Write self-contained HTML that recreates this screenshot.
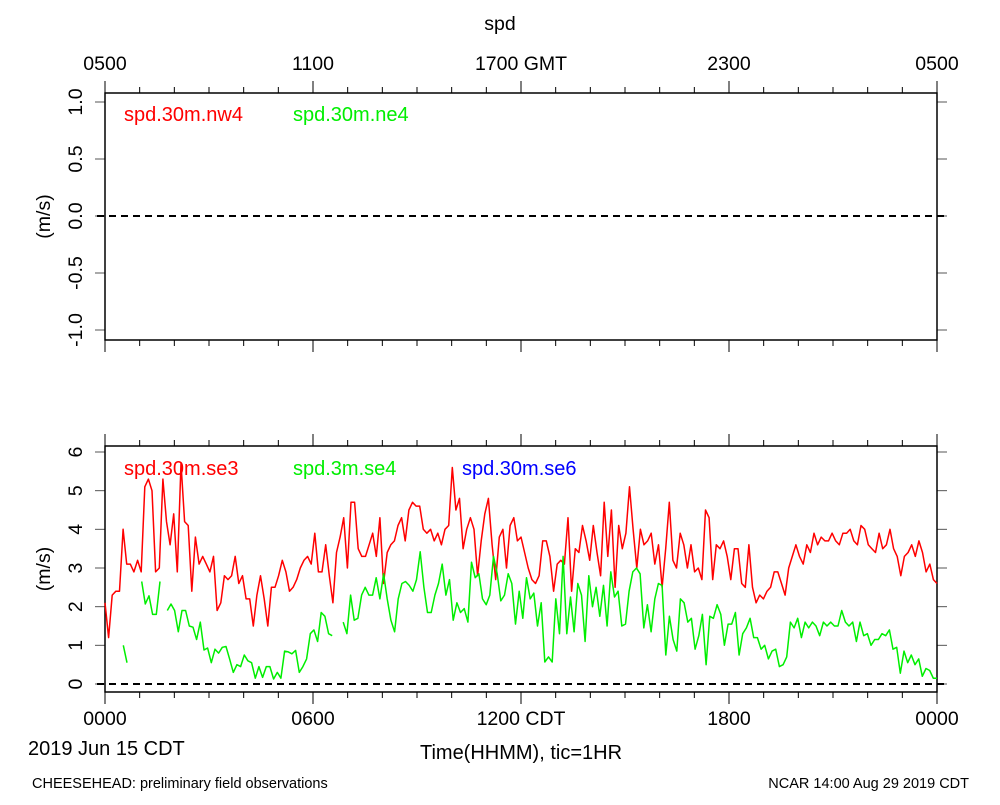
<!DOCTYPE html>
<html><head><meta charset="utf-8"><style>
body{margin:0;background:#fff}
svg text{font-family:"Liberation Sans",sans-serif}
</style></head><body>
<svg id="chart" width="1000" height="800" xmlns="http://www.w3.org/2000/svg"></svg>
<script>
const topTickLabels=["0500","1100","1700 GMT","2300","0500"];
const botTickLabels=["0000","0600","1200 CDT","1800","0000"];
const topYTicks=[1.0,0.5,0.0,-0.5,-1.0];
const topYLabels=["1.0","0.5","0.0","-0.5","-1.0"];
const botYTicks=[0,1,2,3,4,5,6];
const red=[2.1,1.2,2.3,2.4,2.4,4.0,3.1,3.1,2.9,3.2,2.9,5.1,5.3,5.0,2.9,3.0,5.3,4.2,3.6,4.4,2.9,5.7,4.2,4.1,2.4,3.8,3.1,3.3,3.1,2.9,3.3,1.9,2.1,2.8,2.7,2.8,3.3,2.6,2.8,2.2,2.2,1.5,2.3,2.8,2.2,1.5,2.5,2.5,2.8,3.2,2.9,2.4,2.5,2.7,3.0,3.2,3.3,3.1,3.9,2.9,2.9,3.6,2.8,2.1,3.4,3.8,4.3,3.0,4.7,4.7,3.5,3.3,3.3,3.6,3.9,3.3,4.3,2.6,3.4,3.6,3.7,4.1,4.3,3.7,4.5,4.7,4.6,4.6,4.0,3.9,4.0,3.7,3.9,3.6,4.0,4.1,5.6,4.5,4.8,3.5,4.0,4.3,4.0,2.8,3.7,4.4,4.8,3.6,2.7,3.8,4.0,3.0,4.1,4.3,3.7,3.8,3.4,3.0,2.7,2.6,2.8,3.7,3.7,3.3,2.4,3.1,3.2,3.1,4.3,2.4,3.5,3.4,4.1,3.7,3.2,4.1,3.4,2.8,4.7,3.3,4.5,2.5,4.1,3.5,3.9,5.1,4.0,3.0,4.0,3.6,3.7,3.9,3.1,3.6,2.5,3.5,4.7,3.2,3.0,3.9,3.6,3.0,3.6,2.9,3.0,2.7,4.5,4.3,2.7,3.6,3.5,3.7,3.3,2.7,3.5,3.5,2.6,2.5,3.6,2.5,2.1,2.3,2.2,2.4,2.5,2.9,2.9,2.6,2.3,3.0,3.3,3.6,3.3,3.1,3.6,3.4,3.9,3.6,3.8,3.7,3.7,3.9,3.7,3.6,3.9,3.9,4.0,3.7,3.6,4.1,4.0,3.6,3.5,3.4,3.9,3.5,3.6,4.0,3.5,3.3,2.8,3.3,3.4,3.6,3.3,3.7,3.4,2.9,3.1,2.7,2.6];
const green=[null,null,null,null,null,1.0,0.55,null,null,null,2.65,2.07,2.28,1.8,1.8,2.65,null,1.9,2.07,1.9,1.35,1.9,1.9,1.5,1.47,1.15,1.6,0.88,0.93,0.55,0.9,0.8,0.95,0.97,0.65,0.3,0.5,0.45,0.75,0.6,0.55,0.15,0.45,0.17,0.45,0.45,0.13,0.3,0.15,0.85,0.83,0.78,0.87,0.3,0.45,0.65,1.3,1.4,1.1,1.85,1.75,1.3,1.25,null,null,1.6,1.3,2.3,1.65,1.7,2.3,2.5,2.3,2.3,2.75,2.2,2.85,2.2,1.65,1.35,2.2,2.6,2.65,2.55,2.4,2.7,3.42,2.5,1.85,1.85,2.3,2.6,3.1,2.3,2.7,1.65,2.1,1.85,1.95,1.6,3.15,2.75,2.85,2.2,2.05,2.3,3.3,2.85,2.15,2.3,2.85,2.6,1.55,2.4,1.7,2.75,2.2,2.35,1.5,2.1,0.57,0.7,0.57,2.2,1.3,3.3,1.3,2.25,1.35,2.6,2.3,1.1,2.8,2.0,2.5,1.75,2.55,1.5,2.9,2.25,2.4,1.5,1.55,2.4,2.9,3.0,2.85,1.45,2.05,1.35,2.2,2.6,2.55,0.75,1.75,1.15,0.85,2.2,2.1,1.6,1.7,0.9,1.25,1.8,0.5,1.75,1.7,2.05,1.8,1.0,1.55,1.55,1.85,0.75,1.3,1.45,1.7,1.2,1.2,0.9,1.0,0.65,0.85,0.9,0.45,0.5,0.7,1.6,1.45,1.7,1.2,1.6,1.45,1.6,1.5,1.25,1.6,1.5,1.6,1.5,1.5,1.9,1.6,1.5,1.6,1.1,1.6,1.25,1.3,1.0,1.15,1.15,1.3,1.25,1.4,0.9,0.95,0.28,0.85,0.55,0.75,0.5,0.65,0.2,0.4,0.35,0.15,0.15];

const NS="http://www.w3.org/2000/svg";
const svg=document.getElementById('chart');
const X0=105,X1=937;
const xs=h=>X0+(X1-X0)*h/24;
const yTop=v=>216-v*114;
const yBot=v=>684-v*(684-452)/6;
function mk(tag,attrs,parent){const e=document.createElementNS(NS,tag);for(const k in attrs)e.setAttribute(k,attrs[k]);(parent||svg).appendChild(e);return e;}
function txt(s,x,y,size,fill,anchor,rot){const t=mk('text',{x:x,y:y,'font-size':size,fill:fill,'text-anchor':anchor||'start'});if(rot)t.setAttribute('transform','rotate(-90 '+x+' '+y+')');t.textContent=s;return t;}

let t=txt('spd',500,30,19.5,'#000','middle');


function panel(yT,yB,yf,ticks,labels,name){
  const g=mk('g',{});
  
  
  for(let h=0;h<=24;h++){
    const major=h%6===0;const L=major?12:6;
    mk('line',{x1:xs(h),x2:xs(h),y1:yT,y2:yT-L,stroke:'#000','stroke-width':1},g);
    mk('line',{x1:xs(h),x2:xs(h),y1:yB,y2:yB+L,stroke:'#000','stroke-width':1},g);
  }
  ticks.forEach((v,i)=>{
    mk('line',{x1:X0-10,x2:X0,y1:yf(v),y2:yf(v),stroke:'#555','stroke-width':1},g);
    mk('line',{x1:X1,x2:X1+10,y1:yf(v),y2:yf(v),stroke:'#555','stroke-width':1},g);
    const l=txt(labels[i],82,yf(v),19.5,'#000','middle',true);
    
    
    g.appendChild(l);
  });
  mk('rect',{x:X0,y:yT,width:X1-X0,height:yB-yT,fill:'none',stroke:'#000','stroke-width':1.5},g);
  const z=mk('line',{x1:97,x2:947,y1:yf(0),y2:yf(0),stroke:'#000','stroke-width':2,'stroke-dasharray':'7,5'},g);
  
  
  const yl=txt('(m/s)',50,(yT+yB)/2,19.5,'#000','middle',true);
  
  
  return g;
}
panel(93,340,yTop,topYTicks,topYLabels,'top-panel');
panel(446,692,yBot,botYTicks,botYTicks.map(String),'bottom-panel');

topTickLabels.forEach((s,i)=>{const e=txt(s,xs(i*6),70,19.5,'#000','middle');

});
botTickLabels.forEach((s,i)=>{const e=txt(s,xs(i*6),725,19.5,'#000','middle');

});

function series(vals,color,name){
  const n=vals.length;let d='';let pen=false;
  vals.forEach((v,i)=>{
    if(v===null){pen=false;return;}
    const x=xs(i*24/(n-1)),y=yBot(v);
    d+=(pen?'L':'M')+x.toFixed(1)+' '+y.toFixed(1);pen=true;
  });
  const p=mk('path',{d:d,fill:'none',stroke:color,'stroke-width':1.5,'stroke-linejoin':'round'});
  
  
}
series(red,'#ff0000','series-spd-30m-se3');
series(green,'#00ee00','series-spd-3m-se4');

const legends=[['spd.30m.nw4',124,121,'#ff0000'],['spd.30m.ne4',293,121,'#00ee00'],['spd.30m.se3',124,475,'#ff0000'],['spd.3m.se4',293,475,'#00ee00'],['spd.30m.se6',462,475,'#0000ff']];
legends.forEach(l=>{const e=txt(l[0],l[1],l[2],20,l[3],'start');

});

let e1=txt('2019 Jun 15 CDT',28,755,20,'#000','start');

let e2=txt('Time(HHMM), tic=1HR',521,759,20,'#000','middle');

let e3=txt('CHEESEHEAD: preliminary field observations',32,788,14.5,'#000','start');

let e4=txt('NCAR 14:00 Aug 29 2019 CDT',969,788,14.5,'#000','end');

</script>
</body></html>
